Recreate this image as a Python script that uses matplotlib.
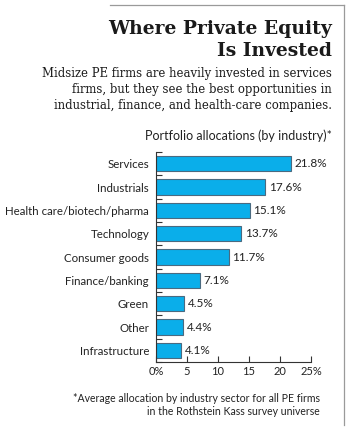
import numpy as np
import matplotlib.pyplot as plt
from matplotlib.lines import Line2D

categories = ["Services", "Industrials", "Health care/biotech/pharma", "Technology",
              "Consumer goods", "Finance/banking", "Green", "Other", "Infrastructure"]
values = [21.8, 17.6, 15.1, 13.7, 11.7, 7.1, 4.5, 4.4, 4.1]
xticks = [0, 5, 10, 15, 20, 25]
xtick_labels = ["0%", "5", "10", "15", "20", "25%"]

W, H = 350, 436
sans = ["Lato", "DejaVu Sans"]
serif = ["DejaVu Serif"]
dark = "#333333"

fig = plt.figure(figsize=(W / 100, H / 100), dpi=100)
fig.patch.set_facecolor("white")

def fx(px):
    return px / W

def fy(py):
    return 1 - py / H

# frame lines (top and right)
fig.add_artist(Line2D([fx(110), fx(344)], [fy(5), fy(5)], color="#9a9a9a", lw=0.9))
fig.add_artist(Line2D([fx(344), fx(344)], [fy(5), fy(425)], color="#9a9a9a", lw=0.9))

# title and subtitle
fig.text(fx(332), fy(34), "Where Private Equity", ha="right", va="baseline",
         fontsize=13.5, fontweight="bold", family=serif, color="#1a1a1a")
fig.text(fx(332), fy(56), "Is Invested", ha="right", va="baseline",
         fontsize=13.5, fontweight="bold", family=serif, color="#1a1a1a")
sub = ["Midsize PE firms are heavily invested in services",
       "firms, but they see the best opportunities in",
       "industrial, finance, and health-care companies."]
for i, line in enumerate(sub):
    fig.text(fx(332), fy(77 + i * 16), line, ha="right", va="baseline",
             fontsize=8.4, family=serif, color="#1a1a1a")

fig.text(fx(332), fy(140), "Portfolio allocations (by industry)*", ha="right",
         va="baseline", fontsize=9, family=sans, color="#222222")

ax = fig.add_axes([fx(156), fy(362), fx(311) - fx(156), (362 - 152) / H])
y = np.arange(len(categories))
ax.barh(y, values, height=0.65, color="#0aaeea", edgecolor="#4a6a80", linewidth=0.8)
ax.set_ylim(len(categories) - 0.5, -0.5)
ax.set_xlim(0, 25)

for yi, v in zip(y, values):
    ax.text(v + 0.6, yi, f"{v}%", va="center", ha="left", fontsize=8.5,
            family=sans, color="#222222")

ax.set_yticks(y)
ax.set_yticklabels(categories, family=sans, fontsize=8.3, color="#222222")
ax.set_yticks(np.arange(-0.5, len(categories), 1), minor=True)
ax.tick_params(axis="y", which="major", length=0, pad=5)
ax.tick_params(axis="y", which="minor", direction="in", length=4, width=0.8, color=dark)

ax.set_xticks(xticks)
ax.set_xticklabels(xtick_labels, family=sans, fontsize=8, color="#222222")
ax.tick_params(axis="x", direction="in", length=4, width=0.8, color=dark, pad=3)

for s in ["top", "right"]:
    ax.spines[s].set_visible(False)
for s in ["left", "bottom"]:
    ax.spines[s].set_color(dark)
    ax.spines[s].set_linewidth(0.8)
ax.set_facecolor("none")

fig.text(fx(320), fy(402), "*Average allocation by industry sector for all PE firms",
         ha="right", va="baseline", fontsize=7.6, family=sans, color="#222222")
fig.text(fx(320), fy(415), "in the Rothstein Kass survey universe",
         ha="right", va="baseline", fontsize=7.6, family=sans, color="#222222")

fig.savefig("out.png", dpi=100, facecolor="white")
